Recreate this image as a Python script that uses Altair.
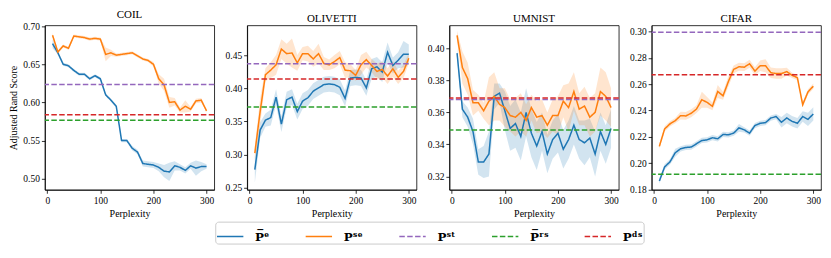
import altair as alt
import pandas as pd

PERPLEXITY = list(range(10, 301, 10))

SERIES = ["P\u0305\u1d49", "P\u02e2\u1d49", "P\u02e2\u1d57", "P\u0305\u02b3\u02e2", "P\u1d48\u02e2"]
COLORS = ["#1f77b4", "#ff7f0e", "#9467bd", "#2ca02c", "#d62728"]
DASHES = [[1, 0], [1, 0], [5.5, 2.4], [5.5, 2.4], [5.5, 2.4]]

# ---- COIL ----
COIL_E = [0.677, 0.665, 0.650, 0.648, 0.642, 0.637, 0.637, 0.631, 0.635, 0.631,
          0.610, 0.603, 0.595, 0.550, 0.550, 0.540, 0.535, 0.520, 0.519, 0.518,
          0.515, 0.510, 0.509, 0.517, 0.515, 0.511, 0.517, 0.514, 0.516, 0.516]
COIL_E_SD = [0.006, 0.002, 0.002, 0.002, 0.002, 0.002, 0.002, 0.002, 0.002, 0.002,
             0.002, 0.002, 0.002, 0.002, 0.002, 0.003, 0.003, 0.004, 0.004, 0.004,
             0.005, 0.008, 0.012, 0.006, 0.004, 0.004, 0.004, 0.010, 0.006, 0.003]
COIL_SE = [0.688, 0.666, 0.674, 0.671, 0.687, 0.686, 0.685, 0.683, 0.684, 0.683,
           0.663, 0.665, 0.662, 0.663, 0.664, 0.665, 0.661, 0.657, 0.655, 0.650,
           0.631, 0.623, 0.600, 0.601, 0.590, 0.595, 0.591, 0.602, 0.603, 0.589]
COIL_SE_SD = [0.003, 0.002, 0.002, 0.002, 0.002, 0.002, 0.002, 0.002, 0.002, 0.002,
              0.009, 0.004, 0.002, 0.002, 0.002, 0.002, 0.002, 0.002, 0.002, 0.003,
              0.006, 0.008, 0.007, 0.005, 0.003, 0.008, 0.003, 0.003, 0.003, 0.002]
COIL_BASE = [0.6235, 0.5766, 0.584]

# ---- OLIVETTI ----
OLI_E = [0.277, 0.337, 0.352, 0.356, 0.387, 0.346, 0.383, 0.387, 0.365, 0.381,
         0.386, 0.396, 0.401, 0.406, 0.407, 0.406, 0.402, 0.385, 0.416, 0.417,
         0.416, 0.401, 0.430, 0.433, 0.425, 0.455, 0.435, 0.443, 0.452, 0.452]
OLI_E_SD = [0.020, 0.012, 0.010, 0.012, 0.012, 0.012, 0.012, 0.012, 0.012, 0.012,
            0.012, 0.012, 0.012, 0.012, 0.012, 0.012, 0.012, 0.012, 0.012, 0.012,
            0.012, 0.012, 0.015, 0.015, 0.015, 0.015, 0.012, 0.012, 0.020, 0.015]
OLI_SE = [0.302, 0.365, 0.421, 0.428, 0.436, 0.460, 0.453, 0.454, 0.439, 0.453,
          0.453, 0.445, 0.453, 0.438, 0.436, 0.441, 0.447, 0.428, 0.427, 0.420,
          0.436, 0.444, 0.435, 0.426, 0.429, 0.419, 0.430, 0.417, 0.426, 0.446]
OLI_SE_SD = [0.010, 0.020, 0.010, 0.012, 0.015, 0.015, 0.015, 0.022, 0.012, 0.010,
             0.012, 0.012, 0.015, 0.010, 0.008, 0.010, 0.010, 0.012, 0.010, 0.008,
             0.015, 0.012, 0.010, 0.012, 0.012, 0.012, 0.012, 0.010, 0.010, 0.008]
OLI_BASE = [0.4376, 0.372, 0.4145]

# ---- UMNIST ----
UMN_E = [0.397, 0.362, 0.357, 0.348, 0.329, 0.329, 0.334, 0.370, 0.372, 0.361,
         0.350, 0.353, 0.345, 0.360, 0.347, 0.339, 0.348, 0.334, 0.343, 0.347,
         0.337, 0.343, 0.352, 0.343, 0.341, 0.344, 0.334, 0.348, 0.340, 0.350]
UMN_E_SD = [0.003, 0.005, 0.006, 0.008, 0.008, 0.010, 0.014, 0.008, 0.006, 0.012,
            0.014, 0.015, 0.015, 0.015, 0.015, 0.015, 0.012, 0.012, 0.012, 0.012,
            0.012, 0.012, 0.012, 0.012, 0.014, 0.012, 0.014, 0.012, 0.012, 0.012]
UMN_SE = [0.408, 0.388, 0.381, 0.366, 0.366, 0.361, 0.367, 0.370, 0.365, 0.363,
          0.358, 0.357, 0.360, 0.355, 0.363, 0.357, 0.358, 0.352, 0.358, 0.358,
          0.367, 0.363, 0.373, 0.362, 0.364, 0.357, 0.360, 0.373, 0.370, 0.363]
UMN_SE_SD = [0.003, 0.010, 0.010, 0.008, 0.005, 0.005, 0.015, 0.015, 0.010, 0.012,
             0.010, 0.012, 0.012, 0.010, 0.008, 0.010, 0.010, 0.008, 0.010, 0.012,
             0.010, 0.015, 0.012, 0.010, 0.012, 0.012, 0.012, 0.015, 0.015, 0.012]
UMN_BASE = [0.368, 0.349, 0.369]

# ---- CIFAR ----
CIF_E = [0.1863, 0.1971, 0.2009, 0.2079, 0.2109, 0.2119, 0.2122, 0.2147, 0.2172, 0.2177,
         0.2193, 0.2185, 0.2218, 0.2215, 0.2228, 0.2268, 0.2253, 0.2228, 0.2286, 0.2303,
         0.2308, 0.2343, 0.2354, 0.2311, 0.2343, 0.2318, 0.2303, 0.2354, 0.2333, 0.2374]
CIF_E_SD = [0.002, 0.002, 0.002, 0.003, 0.002, 0.002, 0.002, 0.002, 0.002, 0.002,
            0.002, 0.002, 0.002, 0.002, 0.002, 0.003, 0.002, 0.002, 0.002, 0.002,
            0.002, 0.002, 0.002, 0.004, 0.004, 0.004, 0.004, 0.004, 0.005, 0.005]
CIF_SE = [0.2127, 0.2260, 0.2298, 0.2323, 0.2361, 0.2359, 0.2379, 0.2411, 0.2482, 0.2462,
          0.2432, 0.2545, 0.2512, 0.2620, 0.2713, 0.2733, 0.2730, 0.2756, 0.2700, 0.2741,
          0.2741, 0.2688, 0.2681, 0.2681, 0.2696, 0.2668, 0.2650, 0.2444, 0.2542, 0.2585]
CIF_SE_SD = [0.002, 0.002, 0.002, 0.002, 0.003, 0.003, 0.003, 0.003, 0.006, 0.004,
             0.003, 0.005, 0.003, 0.004, 0.003, 0.003, 0.003, 0.003, 0.003, 0.004,
             0.005, 0.004, 0.004, 0.004, 0.003, 0.002, 0.002, 0.002, 0.002, 0.002]
CIF_BASE = [0.2995, 0.1916, 0.2673]

FONT = "Liberation Serif"

color_scale = alt.Scale(domain=SERIES, range=COLORS)
dash_scale = alt.Scale(domain=SERIES, range=DASHES)
legend = alt.Legend(
    title=None, orient="none", direction="horizontal", legendX=171, legendY=197,
    symbolType="stroke", symbolSize=700, symbolStrokeWidth=1.5, symbolOpacity=1,
    labelFont="DejaVu Serif", labelFontSize=12, labelFontWeight="bold", labelOffset=11,
    columnPadding=32, padding=1, strokeColor="#cccccc", fillColor="white", cornerRadius=3,
)


def panel(title, e, e_sd, se, se_sd, base, ydom, yticks, ytitle):
    rows = []
    for name, vals, sds in [(SERIES[0], e, e_sd), (SERIES[1], se, se_sd)]:
        for x, v, s in zip(PERPLEXITY, vals, sds):
            rows.append({"x": x, "v": v, "lo": v - s, "hi": v + s, "series": name})
    df = pd.DataFrame(rows)
    rdf = pd.DataFrame({"series": [SERIES[2], SERIES[3], SERIES[4]], "v": base})

    xenc = alt.X("x:Q", scale=alt.Scale(domain=[-4.5, 314.5], nice=False, zero=False),
                 axis=alt.Axis(values=[0, 100, 200, 300], title="Perplexity", format="d"))
    yscale = alt.Scale(domain=ydom, nice=False, zero=False)
    yaxis = alt.Axis(values=yticks, format=".2f", title=ytitle if ytitle else None)
    col = alt.Color("series:N", scale=color_scale, legend=legend)
    dash = alt.StrokeDash("series:N", scale=dash_scale, legend=legend)

    area = alt.Chart(df).mark_area(opacity=0.2).encode(
        x=xenc, y=alt.Y("lo:Q", scale=yscale, axis=yaxis), y2="hi:Q", color=col)
    line = alt.Chart(df).mark_line(strokeWidth=1.5).encode(
        x=xenc, y=alt.Y("v:Q", scale=yscale, axis=yaxis), color=col, strokeDash=dash)
    rule = alt.Chart(rdf).mark_rule(strokeWidth=1.5).encode(
        y=alt.Y("v:Q", scale=yscale, axis=yaxis), color=col, strokeDash=dash)
    return alt.layer(area, line, rule).properties(
        width=170, height=165,
        title=alt.TitleParams(title, font=FONT, fontSize=11, fontWeight="normal", offset=1))


p1 = panel("COIL", COIL_E, COIL_E_SD, COIL_SE, COIL_SE_SD, COIL_BASE,
           [0.4856, 0.701], [0.50, 0.55, 0.60, 0.65, 0.70], "Adjusted Rand Score")
p2 = panel("OLIVETTI", OLI_E, OLI_E_SD, OLI_SE, OLI_SE_SD, OLI_BASE,
           [0.2464, 0.4959], [0.25, 0.30, 0.35, 0.40, 0.45], None)
p3 = panel("UMNIST", UMN_E, UMN_E_SD, UMN_SE, UMN_SE_SD, UMN_BASE,
           [0.3117, 0.4143], [0.32, 0.34, 0.36, 0.38, 0.40], None)
p4 = panel("CIFAR", CIF_E, CIF_E_SD, CIF_SE, CIF_SE_SD, CIF_BASE,
           [0.1797, 0.3048], [0.18, 0.20, 0.22, 0.24, 0.26, 0.28, 0.30], None)

chart = alt.hconcat(p1, p2, p3, p4, spacing=8).resolve_scale(y="independent").properties(
    padding={"left": 0, "top": 0, "right": 0, "bottom": 0}
).configure_view(stroke="black", strokeWidth=0.8).configure_axis(
    labelFont=FONT, titleFont=FONT, labelFontSize=9.5, titleFontSize=10,
    titleFontWeight="normal", labelColor="black", titleColor="black",
    domainColor="black", tickColor="black", tickSize=3.5, domainWidth=0.8, tickWidth=0.8,
    grid=False, labelPadding=2, titlePadding=4,
).configure_title(font=FONT, fontWeight="normal", color="black")

chart.save("out.html", embed_options={"renderer": "svg", "actions": False})
